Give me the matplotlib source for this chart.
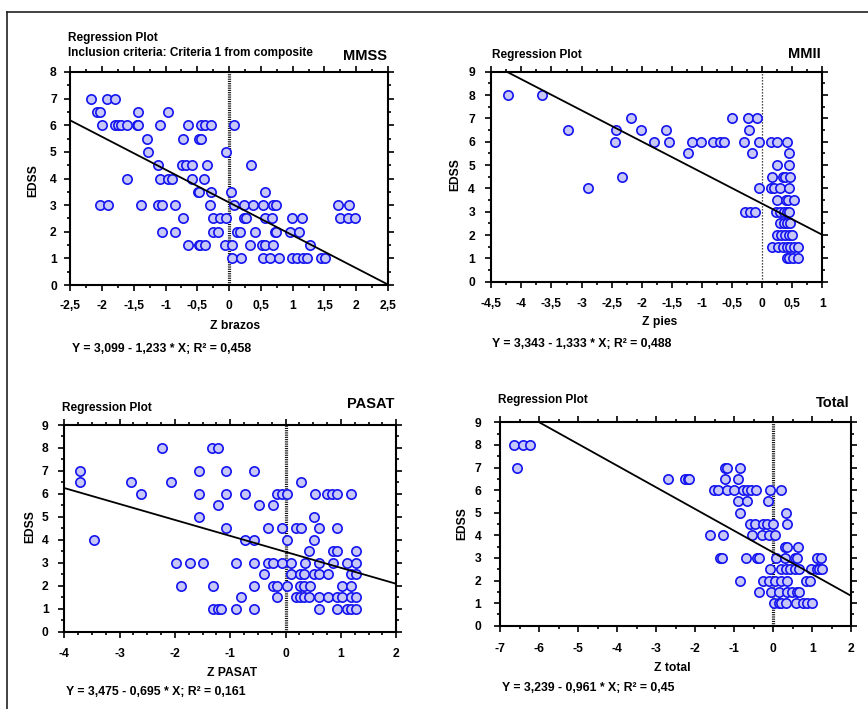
import matplotlib
matplotlib.use("Agg")
import numpy as np
import matplotlib.pyplot as plt
import matplotlib.transforms as mtransforms
from matplotlib.ticker import MultipleLocator, FuncFormatter
from matplotlib.lines import Line2D

W, H = 868, 709
plt.rcParams['font.family'] = ['Liberation Sans', 'DejaVu Sans']
plt.rcParams['font.weight'] = 'bold'

# ---------------- data (EDSS level -> Z scores) ----------------
mmss_rows = {
    7.0: [-2.18, -1.92, -1.80],
    6.5: [-2.08, -2.04, -1.43, -0.97],
    6.0: [-2.00, -1.80, -1.75, -1.70, -1.60, -1.45, -1.43, -1.09, -0.64, -0.44, -0.38, -0.28, 0.07],
    5.5: [-1.29, -0.72, -0.47, -0.45],
    5.0: [-1.27, -0.05],
    4.5: [-1.12, -0.74, -0.68, -0.58, -0.35, 0.34],
    4.0: [-1.60, -1.09, -0.97, -0.90, -0.59, -0.39],
    3.5: [-0.49, -0.47, -0.29, 0.03, 0.57],
    3.0: [-2.04, -1.90, -1.39, -1.12, -1.05, -0.85, -0.30, 0.08, 0.24, 0.38, 0.54, 0.69, 0.73, 1.72, 1.88],
    2.5: [-0.72, -0.25, -0.14, -0.05, 0.24, 0.26, 0.57, 0.68, 0.99, 1.15, 1.75, 1.87, 1.98],
    2.0: [-1.05, -0.85, -0.25, -0.18, 0.13, 0.17, 0.41, 0.72, 0.74, 0.96, 1.10],
    1.5: [-0.64, -0.48, -0.46, -0.38, -0.07, 0.05, 0.33, 0.52, 0.57, 0.69, 1.27],
    1.0: [0.04, 0.18, 0.53, 0.65, 0.79, 0.99, 1.07, 1.17, 1.23, 1.45, 1.51],
}
mmii_rows = {
    8.0: [-4.23, -3.66],
    7.0: [-2.18, -0.50, -0.23, -0.08],
    6.5: [-3.23, -2.42, -2.02, -1.59, -0.21],
    6.0: [-2.45, -1.80, -1.54, -1.16, -1.02, -0.81, -0.70, -0.64, -0.30, -0.05, 0.14, 0.25, 0.41],
    5.5: [-1.23, -0.16, 0.44],
    5.0: [0.24, 0.44],
    4.5: [-2.32, 0.17, 0.34, 0.38, 0.46],
    4.0: [-2.89, -0.05, 0.14, 0.19, 0.30, 0.44],
    3.5: [0.24, 0.39, 0.43, 0.53],
    3.0: [-0.29, -0.20, -0.11, 0.23, 0.30, 0.36, 0.41, 0.45],
    2.5: [0.30, 0.36, 0.41, 0.47],
    2.0: [0.25, 0.32, 0.38, 0.44, 0.49],
    1.5: [0.17, 0.26, 0.35, 0.41, 0.47, 0.53, 0.59],
    1.0: [0.41, 0.45, 0.51, 0.59],
}
pasat_rows = {
    8.0: [-2.24, -1.33, -1.23],
    7.0: [-3.71, -1.57, -1.07, -0.57],
    6.5: [-3.71, -2.80, -2.07, 0.27],
    6.0: [-2.61, -1.57, -1.07, -0.73, -0.16, -0.07, 0.03, 0.53, 0.75, 0.84, 0.93, 1.18],
    5.5: [-1.23, -0.48, -0.23],
    5.0: [-1.57, 0.52],
    4.5: [-1.07, -0.31, -0.07, 0.19, 0.27, 0.60, 0.93],
    4.0: [-3.47, -0.73, -0.58, 0.02, 0.52],
    3.5: [0.43, 0.85, 0.93, 1.27],
    3.0: [-1.99, -1.73, -1.49, -0.90, -0.58, -0.31, -0.22, -0.07, 0.10, 0.35, 0.60, 0.85, 1.10, 1.27],
    2.5: [-0.40, 0.09, 0.26, 0.34, 0.51, 0.60, 0.77, 1.18, 1.27],
    2.0: [-1.90, -1.32, -0.58, -0.23, -0.15, 0.02, 0.26, 0.34, 0.44, 1.02, 1.19],
    1.5: [-0.81, -0.15, 0.19, 0.26, 0.34, 0.43, 0.60, 0.77, 0.93, 1.02, 1.19, 1.27],
    1.0: [-1.32, -1.23, -1.16, -0.90, -0.58, 0.60, 0.93, 1.10, 1.19, 1.27],
}
total_rows = {
    8.0: [-6.64, -6.40, -6.24],
    7.0: [-6.56, -1.24, -1.18, -0.86],
    6.5: [-2.69, -2.25, -2.19, -2.15, -1.24, -0.89],
    6.0: [-1.53, -1.41, -1.19, -1.00, -0.77, -0.67, -0.58, -0.44, -0.08, 0.20],
    5.5: [-0.89, -0.68, -0.13],
    5.0: [-0.85, 0.33],
    4.5: [-0.60, -0.47, -0.25, -0.17, 0.00, 0.35],
    4.0: [-1.62, -1.29, -0.55, -0.30, -0.10, 0.04],
    3.5: [0.30, 0.36, 0.64],
    3.0: [-1.36, -1.30, -0.70, -0.42, -0.36, 0.06, 0.30, 0.56, 0.62, 1.13, 1.22],
    2.5: [-0.08, 0.20, 0.33, 0.43, 0.56, 0.67, 0.96, 1.11, 1.18, 1.24],
    2.0: [-0.85, -0.25, -0.10, 0.05, 0.19, 0.36, 0.84, 0.93],
    1.5: [-0.36, -0.06, 0.16, 0.35, 0.47, 0.60, 0.67],
    1.0: [0.02, 0.16, 0.20, 0.33, 0.58, 0.76, 0.86, 0.99],
}

panel_names = ["MMSS", "MMII", "PASAT", "Total"]
x_labels = ["Z brazos", "Z pies", "Z PASAT", "Z total"]
intercepts = [3.099, 3.343, 3.475, 3.239]
slopes = [-1.233, -1.333, -0.695, -0.961]
equations = ["Y = 3,099 - 1,233 * X; R\u00b2 = 0,458",
             "Y = 3,343 - 1,333 * X; R\u00b2 = 0,488",
             "Y = 3,475 - 0,695 * X; R\u00b2 = 0,161",
             "Y = 3,239 - 0,961 * X; R\u00b2 = 0,45"]
x_limits = [(-2.5, 2.5), (-4.5, 1.0), (-4.0, 2.0), (-7.0, 2.0)]
y_limits = [(0, 8), (0, 9), (0, 9), (0, 9)]
x_major = [0.5, 0.5, 1.0, 1.0]
x_minor = [0.25, 0.25, 0.25, 0.5]
subtitle = "Inclusion criteria: Criteria 1 from composite"

# ---------------- layout (pixels) ----------------
fig = plt.figure(figsize=(W / 100, H / 100), dpi=100)
PX = mtransforms.Affine2D().scale(1 / W, -1 / H).translate(0, 1) + fig.transFigure

boxes = [(70.3, 72, 388, 285), (491.3, 71.7, 822.3, 281.7),
         (64.3, 425, 396.3, 631.7), (500, 422.3, 851.3, 625.7)]
xpads = [6.6, 7.0, 7.4, 8.0]
ypads = [5.2, 7.2, 6.8, 9.0]
rp_pos = [(68.3, 40.5), (492.3, 57.8), (61.7, 411), (498.3, 403.3)]
name_pos = [(387.3, 60), (820.7, 58.3), (394.3, 408.3), (850, 407.3)]
xlab_pos = [(235.5, 329), (660, 325), (232.3, 676), (672.3, 670.7)]
ylab_pos = [(33.3, 180.7), (455.7, 175), (30.7, 526.7), (462.3, 523.3)]
eq_pos = [(71.7, 351.7), (492.3, 346.7), (66, 695), (501.7, 690.7)]
thick_zero = [True, False, True, True]


def fmt(v, pos):
    s = ('%.2f' % v).rstrip('0').rstrip('.')
    if s in ('-0', '-0.'):
        s = '0'
    return s.replace('.', ',')


face = '#c8c8f8'
edge = '#1414f0'
all_rows = [mmss_rows, mmii_rows, pasat_rows, total_rows]

for i in range(4):
    l, t, r, b = boxes[i]
    ax = fig.add_axes([l / W, 1 - b / H, (r - l) / W, (b - t) / H])
    ax.set_xlim(*x_limits[i])
    ax.set_ylim(*y_limits[i])
    ax.xaxis.set_major_locator(MultipleLocator(x_major[i]))
    ax.xaxis.set_minor_locator(MultipleLocator(x_minor[i]))
    ax.yaxis.set_major_locator(MultipleLocator(1))
    ax.yaxis.set_minor_locator(MultipleLocator(0.5))
    ax.xaxis.set_major_formatter(FuncFormatter(fmt))
    ax.yaxis.set_major_formatter(FuncFormatter(fmt))
    ax.tick_params(which='both', direction='out', top=True, right=True,
                   width=1.2, color='black')
    ax.tick_params(which='major', length=4.5, labelsize=8.7)
    ax.tick_params(which='minor', length=2.3)
    ax.tick_params(axis='x', which='major', pad=xpads[i])
    ax.tick_params(axis='y', which='major', pad=ypads[i])
    for lab in ax.get_xticklabels() + ax.get_yticklabels():
        lab.set_fontweight('bold')
    for s in ax.spines.values():
        s.set_linewidth(1.5)

    if thick_zero[i]:
        ax.axvline(0, color='#111111', lw=2.3, ls=(0, (0.35, 0.35)), zorder=1.5)
    else:
        ax.axvline(0, color='#111111', lw=0.9, ls=(0, (1, 1.4)), zorder=1.5)

    rows = all_rows[i]
    xs = [x for lvl in rows for x in rows[lvl]]
    ys = [lvl for lvl in rows for _ in rows[lvl]]
    ax.plot(xs, ys, 'o', ms=6.7, mfc=face, mec=edge, mew=1.2, zorder=2)

    xl = np.array(x_limits[i])
    ax.plot(xl, intercepts[i] + slopes[i] * xl, color='black', lw=1.3, zorder=3)

    ax.set_xlabel(x_labels[i], fontsize=8.7, fontweight='bold', va='baseline')
    ax.xaxis.set_label_coords(*xlab_pos[i], transform=PX)
    ax.set_ylabel('EDSS', fontsize=8.7, fontweight='bold', va='center', ha='center')
    ax.yaxis.set_label_coords(*ylab_pos[i], transform=PX)

    fig.text(*rp_pos[i], "Regression Plot", transform=PX, ha='left', va='baseline',
             fontsize=8.5, fontweight='bold')
    fig.text(*name_pos[i], panel_names[i], transform=PX, ha='right', va='baseline',
             fontsize=10.5, fontweight='bold')
    fig.text(*eq_pos[i], equations[i], transform=PX, ha='left', va='baseline',
             fontsize=8.8, fontweight='bold')

fig.text(68.3, 56, subtitle, transform=PX, ha='left', va='baseline',
         fontsize=8.5, fontweight='bold')

# outer frame (top and left edges)
fig.add_artist(Line2D([6.8, W], [11.5, 11.5], transform=PX, color='#222222', lw=1.2))
fig.add_artist(Line2D([6.8, 6.8], [11.5, H], transform=PX, color='#222222', lw=1.2))

fig.savefig('out.png', dpi=100)
